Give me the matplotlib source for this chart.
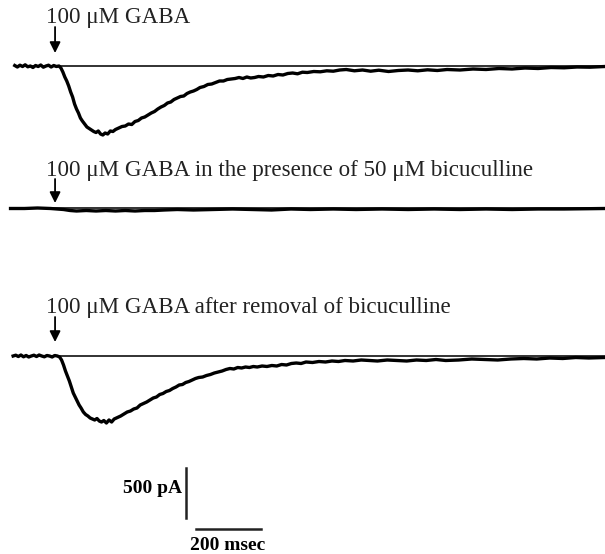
import numpy as np
import matplotlib.pyplot as plt

plt.rcParams['font.family'] = ['Liberation Serif', 'DejaVu Serif']

# (time ms, current pA relative to baseline); time 0 = GABA application
ctrl = [(-130, 5), (-122, -10), (-114, 8), (-106, -5), (-98, 12), (-90, -8), (-82, 0), (-74, -15),
        (-66, 5), (-58, -5), (-50, 10), (-42, -12), (-34, 0), (-26, 8), (-18, -10), (-10, 5), (-2, -5), (6, 0),
        (12, -20), (18, -60), (24, -110), (30, -150), (36, -200), (42, -260), (48, -310), (54, -380),
        (60, -430), (66, -470), (72, -520), (78, -550), (85, -580), (92, -610), (99, -625), (106, -640),
        (113, -655), (120, -665), (127, -650), (134, -680), (141, -690), (148, -670),
        (156, -680), (164, -650), (172, -655), (180, -635), (190, -620), (200, -605), (210, -600),
        (220, -580), (230, -585), (240, -555), (250, -545), (260, -520), (270, -510), (280, -490),
        (290, -470), (300, -455), (310, -430), (320, -410), (330, -395), (340, -370), (350, -360),
        (360, -335), (370, -320), (380, -305), (390, -300), (400, -275), (410, -260), (420, -250),
        (430, -235), (440, -215), (452, -205), (464, -185), (476, -180), (488, -165), (500, -150),
        (512, -150), (524, -135), (536, -130), (548, -125), (560, -115), (572, -125), (584, -110),
        (596, -120), (608, -115), (620, -105), (635, -110), (650, -95), (665, -100), (680, -85),
        (695, -90), (710, -75), (725, -70), (740, -78), (755, -62), (770, -65), (790, -55), (810, -58),
        (830, -48), (850, -52), (870, -40), (890, -35), (915, -48), (940, -40), (965, -52), (990, -42),
        (1020, -55), (1050, -45), (1080, -40), (1110, -48), (1140, -38), (1170, -45), (1200, -35),
        (1240, -40), (1280, -30), (1320, -35), (1360, -25), (1400, -30), (1440, -20), (1480, -25),
        (1520, -15), (1560, -18), (1600, -10), (1640, -12), (1686, -5)]

bic = [(-143, 0), (-100, 0), (-60, 5), (-20, 0), (0, -5), (20, -10), (40, -20), (60, -25), (90, -20),
       (120, -25), (150, -20), (180, -25), (210, -20), (240, -25), (270, -20), (300, -20), (330, -15),
       (370, -10), (420, -15), (480, -10), (540, -5), (600, -10), (660, -15), (720, -5), (780, -10),
       (850, -5), (920, -10), (1000, -5), (1080, -10), (1160, -5), (1240, -10), (1320, -5), (1400, -10),
       (1480, -5), (1560, -5), (1686, 0)]

wash = [(-135, 0), (-127, 8), (-119, -5), (-111, 10), (-103, -8), (-95, 5), (-87, -10), (-79, 0),
        (-71, 8), (-63, -5), (-55, 10), (-47, 0), (-39, -8), (-31, 5), (-23, 0), (-15, -10), (-7, 5), (1, 0),
        (8, -10), (14, -40), (20, -90), (26, -150), (32, -200), (38, -250), (44, -310), (50, -370),
        (56, -410), (62, -450), (68, -490), (74, -520), (81, -560), (88, -585), (95, -600), (102, -620),
        (109, -630), (116, -640), (123, -625), (130, -650), (137, -660), (144, -645),
        (152, -670), (160, -640), (168, -660), (176, -630), (186, -615), (196, -600), (206, -580),
        (216, -560), (226, -550), (236, -530), (246, -520), (256, -490), (266, -475), (276, -460),
        (286, -440), (296, -420), (306, -410), (316, -385), (326, -375), (336, -355), (346, -345),
        (356, -325), (366, -310), (376, -290), (386, -285), (396, -265), (406, -255), (416, -240),
        (426, -225), (436, -215), (448, -210), (460, -195), (472, -185), (484, -170), (496, -160),
        (508, -150), (520, -135), (532, -125), (544, -130), (556, -115), (568, -120), (580, -110),
        (592, -115), (604, -105), (616, -110), (631, -100), (646, -105), (661, -95), (676, -100),
        (691, -85), (706, -90), (721, -75), (736, -70), (751, -75), (766, -60), (786, -65), (806, -55),
        (826, -60), (846, -50), (866, -55), (886, -45), (911, -50), (936, -40), (961, -45), (986, -50),
        (1016, -40), (1046, -45), (1076, -50), (1106, -40), (1136, -45), (1166, -35), (1196, -45),
        (1236, -40), (1276, -30), (1316, -35), (1356, -40), (1396, -30), (1436, -25), (1476, -30),
        (1516, -20), (1556, -25), (1596, -15), (1636, -20), (1686, -15)]

labels = ['100 \u03bcM GABA',
          '100 \u03bcM GABA in the presence of 50 \u03bcM bicuculline',
          '100 \u03bcM GABA after removal of bicuculline']

offsets = [-660, -2085, -3560]
label_y = [-230, -1760, -3130]
arrow_top = [-270, -1790, -3170]
arrow_tip = [-530, -2030, -3420]
traces = [ctrl, bic, wash]

fig = plt.figure(figsize=(6.05, 5.54), dpi=100)
ax = fig.add_axes([0, 0, 1, 1])
ax.set_xlim(-175.4, 1686)
ax.set_ylim(-5540, 0)
ax.axis('off')

for k in range(3):
    t, cur = np.array(traces[k]).T
    off = offsets[k]
    ax.plot([t[0], 1686], [off, off], color='#222222', lw=1.3)
    ax.plot(t, cur + off, color='black', lw=2.4, solid_joinstyle='round')
    ax.text(-35, label_y[k], labels[k], fontsize=16.6, va='baseline', ha='left', color='#222222')
    ax.annotate('', xy=(-6, arrow_tip[k]), xytext=(-6, arrow_top[k]),
                arrowprops=dict(arrowstyle='-|>', color='black', lw=1.3,
                                mutation_scale=16, shrinkA=0, shrinkB=0))

# scale bars: 500 pA, 200 msec
ax.plot([398, 398], [-4680, -5180], color='#222222', lw=1.8)
ax.plot([428, 628], [-5290, -5290], color='#222222', lw=1.8)
ax.text(385, -4930, '500 pA', fontsize=14, fontweight='bold', ha='right', va='baseline')
ax.text(526, -5500, '200 msec', fontsize=14, fontweight='bold', ha='center', va='baseline')

fig.savefig('out.png', dpi=100)
